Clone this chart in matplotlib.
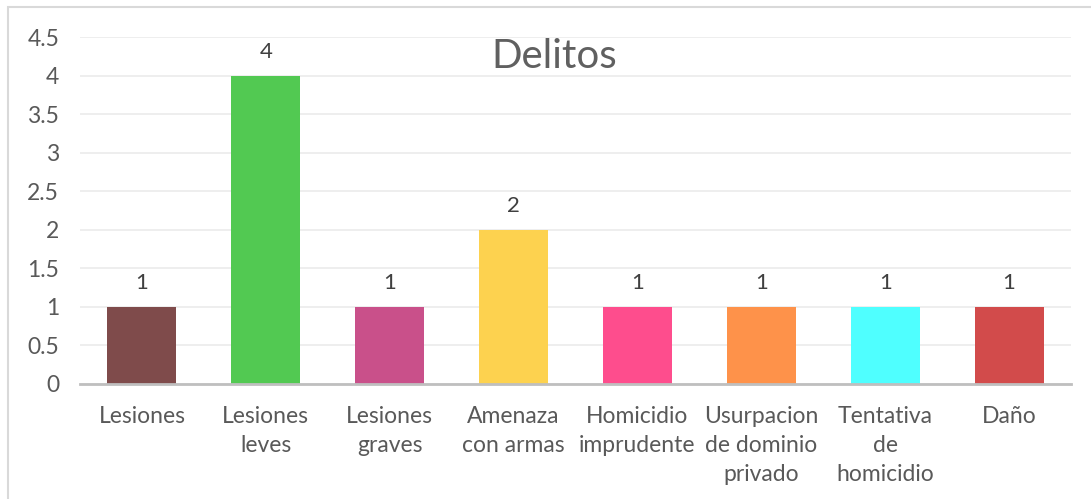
import matplotlib.pyplot as plt
from matplotlib.patches import Rectangle

categorias = ["Lesiones", "Lesiones\nleves", "Lesiones\ngraves", "Amenaza\ncon armas",
              "Homicidio\nimprudente", "Usurpacion\nde dominio\nprivado", "Tentativa\nde\nhomicidio", "Daño"]
valores = [1, 4, 1, 2, 1, 1, 1, 1]
colores = ["#7f4b4b", "#52c952", "#c9508a", "#fdd24f", "#fe4d8d", "#fe924a", "#4fffff", "#d24b4b"]
yticks = [0, 0.5, 1, 1.5, 2, 2.5, 3, 3.5, 4, 4.5]

plt.rcParams['font.family'] = ['Lato', 'DejaVu Sans']

fig = plt.figure(figsize=(10.91, 4.99), dpi=100)
ax = fig.add_axes([80/1091, 115/499, 991/1091, 347/499])

x = list(range(len(categorias)))
barras = ax.bar(x, valores, width=0.557, color=colores, zorder=3)
for xi, v in zip(x, valores):
    ax.annotate(str(v), (xi, v), xytext=(0, 10), textcoords="offset points",
                ha="center", va="bottom", fontsize=16, color="#404040")

ax.set_xlim(-0.5, 7.5)
ax.set_ylim(0, 4.5)
ax.set_yticks(yticks)
ax.set_yticklabels(["0", "0.5", "1", "1.5", "2", "2.5", "3", "3.5", "4", "4.5"])
ax.set_xticks(x)
ax.set_xticklabels(categorias, linespacing=1.45)
ax.tick_params(axis="both", length=0, labelsize=16.5, labelcolor="#595959")
ax.tick_params(axis="y", pad=15)
ax.tick_params(axis="x", pad=16)
ax.grid(axis="y", color="#ededed", linewidth=1.3, zorder=0)
for s in ["top", "right", "left"]:
    ax.spines[s].set_visible(False)
ax.spines["bottom"].set_color("#bfbfbf")
ax.spines["bottom"].set_linewidth(2)
ax.spines["bottom"].set_zorder(4)

fig.text(554/1091, 1 - 57/499, "Delitos", ha="center", va="center",
         fontsize=29, color="#606060")

# marco del grafico
fig.patches.append(Rectangle((8/1091, -0.1), 1.2, 1 - 7/499 + 0.1, transform=fig.transFigure,
                             fill=False, edgecolor="#d9d9d9", linewidth=1.5))

fig.savefig("out.png", dpi=100)
